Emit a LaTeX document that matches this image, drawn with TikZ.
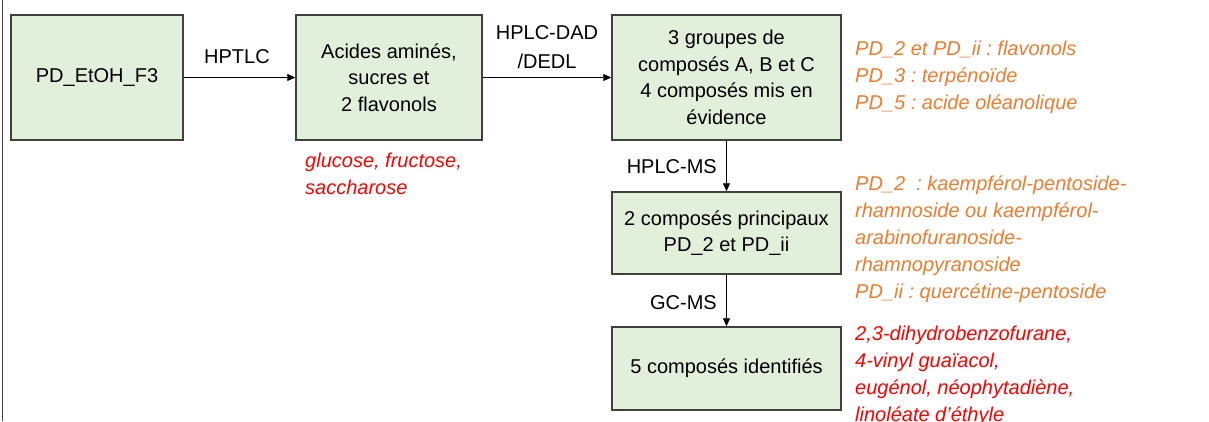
\documentclass[tikz,border=0pt]{standalone}
\usepackage{fontspec}
\setmainfont{Liberation Sans}
\usepackage{tikz,xcolor}
\usetikzlibrary{arrows.meta}
\definecolor{boxfill}{HTML}{E2EFDA}
\definecolor{boxline}{HTML}{404040}
\definecolor{noteorange}{HTML}{ED7D31}
\definecolor{notered}{HTML}{FF0000}
\frenchspacing

\begin{document}
\begin{tikzpicture}[x=1pt,y=-1pt]
\useasboundingbox (0,0) rectangle (1209,421);
\tikzstyle{etape}=[draw=boxline,line width=1.5pt,fill=boxfill,align=center,inner sep=0pt,font=\fontsize{20}{26.5}\selectfont]
\tikzstyle{fleche}=[line width=0.8pt,-{Triangle[length=8pt,width=7pt]}]
\tikzstyle{methode}=[inner sep=0pt,align=center,font=\fontsize{20}{29}\selectfont]
\tikzstyle{note}=[inner sep=0pt,anchor=west,align=left,font=\fontsize{20}{27}\selectfont\itshape]
    \draw[boxline,line width=1.5pt] (2.5,0)--(2.5,421);
    \node[etape,minimum width=172pt,minimum height=125pt](b1) at (97,77.5){PD\_EtOH\_F3};
    \node[etape,minimum width=186pt,minimum height=125pt](b2) at (389,77.5){Acides aminés,\\sucres et\\2 flavonols};
    \node[etape,minimum width=229pt,minimum height=125pt](b3) at (726.5,77.5){3 groupes de\\composés A, B et C\\4 composés mis en\\évidence};
    \node[etape,minimum width=229pt,minimum height=82pt](b4) at (726.5,233){2 composés principaux\\PD\_2 et PD\_ii};
    \node[etape,minimum width=229pt,minimum height=83pt](b5) at (726.5,368.5){5 composés identifiés};
    \draw[fleche](b1)--(b2);
    \draw[fleche](b2)--(b3);
    \draw[fleche](b3)--(b4);
    \draw[fleche](b4)--(b5);
    \node[methode](m1) at (237,57){HPTLC};
    \node[methode](m2) at (547,47){HPLC-DAD\\/DEDL};
    \node[methode,anchor=east](m3) at (717,167){HPLC-MS};
    \node[methode,anchor=east](m4) at (717,303){GC-MS};
    \node[note,text=notered](n1) at (305,174){glucose, fructose,\\saccharose};
    \node[note,text=noteorange](n2) at (855,77.5){PD\_2 et PD\_ii : flavonols\\PD\_3 : terpénoïde\\PD\_5 : acide oléanolique};
    \node[note,text=noteorange](n3) at (855,239){PD\_2~ : kaempférol-pentoside-\\rhamnoside ou kaempférol-\\arabinofuranoside-\\rhamnopyranoside\\PD\_ii : quercétine-pentoside};
    \node[note,text=notered](n4) at (855,376){2,3-dihydrobenzofurane,\\4-vinyl guaïacol,\\eugénol, néophytadiène,\\linoléate d’éthyle};
\end{tikzpicture}
\end{document}
